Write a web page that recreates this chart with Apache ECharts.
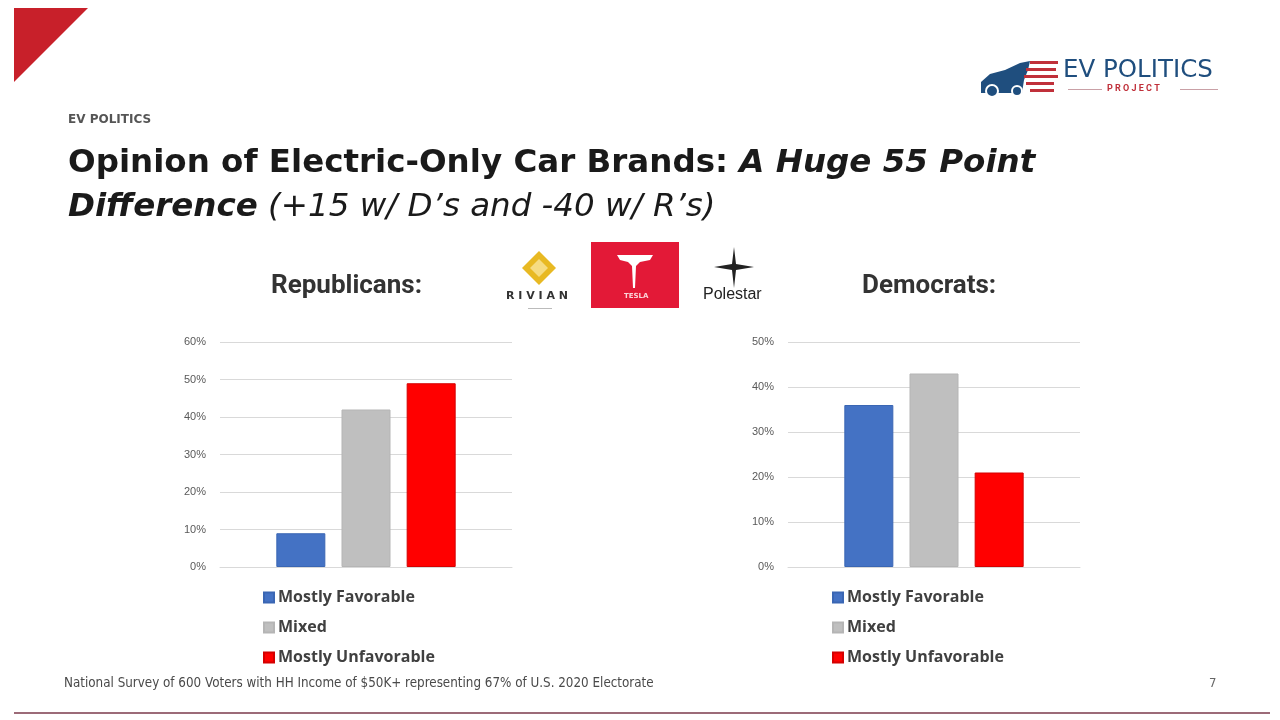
<!DOCTYPE html>
<html>
<head>
<meta charset="utf-8">
<script src="https://cdn.jsdelivr.net/npm/echarts@6/dist/echarts.min.js"></script>
<style>
html,body{margin:0;padding:0;background:#fff;}
#chart{width:1280px;height:720px;}
</style>
</head>
<body>
<div id="chart"></div>
<script>
// ---- data ----
const seriesNames = ['Mostly Favorable', 'Mixed', 'Mostly Unfavorable'];
const seriesColors = ['#4472c4', '#bfbfbf', '#ff0000'];
const repValues = [0.09, 0.42, 0.49];
const demValues = [0.36, 0.43, 0.21];
const repAxisMax = 0.6;
const demAxisMax = 0.5;
const axisStep = 0.1;
const panelTitles = ['Republicans:', 'Democrats:'];
const titleBold = 'Opinion of Electric-Only Car Brands: ';
const titleBoldItalic1 = 'A Huge 55 Point';
const titleBoldItalic2 = 'Difference';
const titleItalic = ' (+15 w/ D\u2019s and -40 w/ R\u2019s)';
const kicker = 'EV POLITICS';
const footnote = 'National Survey of 600 Voters with HH Income of $50K+ representing 67% of U.S. 2020 Electorate';
const pageNumber = '7';

const chart = echarts.init(document.getElementById('chart'), null, {renderer: 'canvas'});

const pctFmt = v => Math.round(v * 100) + '%';

function yAxis(gridIndex, max) {
  return {
    type: 'value', gridIndex: gridIndex, min: 0, max: max, interval: axisStep,
    axisLabel: {formatter: pctFmt, color: '#595959', fontSize: 11, fontFamily: 'Liberation Sans', margin: 14},
    axisLine: {show: false}, axisTick: {show: false},
    splitLine: {lineStyle: {color: '#d9d9d9', width: 1}}
  };
}
function xAxis(gridIndex) {
  return {
    type: 'category', gridIndex: gridIndex, data: [''],
    axisLine: {show: true, lineStyle: {color: '#d9d9d9'}},
    axisTick: {show: false}, axisLabel: {show: false}
  };
}
function bars(values, idx) {
  return seriesNames.map((name, i) => ({
    name: name, type: 'bar', xAxisIndex: idx, yAxisIndex: idx,
    data: [values[i]], barWidth: 49, barGap: '33%',
    itemStyle: {color: seriesColors[i], borderColor: i === 1 ? '#b5b5b5' : (i === 0 ? '#3a66b3' : '#d40000'), borderWidth: 1},
    emphasis: {disabled: true}
  }));
}
function legend(left) {
  return {
    orient: 'vertical', left: left, top: 588, itemGap: 11, padding: 0,
    itemWidth: 10, itemHeight: 10, icon: 'rect',
    data: seriesNames, selectedMode: false,
    textStyle: {color: '#404040', fontSize: 16, fontWeight: 'bold', fontFamily: 'Open Sans', padding: [0, 0, 0, -1], lineHeight: 19}
  };
}

const titleFont = 'DejaVu Sans';
const option = {
  backgroundColor: '#ffffff',
  animation: false,
  title: [{
    left: 68, top: 142, padding: 0,
    text: '{b|' + titleBold + '}{bi|' + titleBoldItalic1 + '}\n{bi|' + titleBoldItalic2 + '}{i|' + titleItalic + '}',
    textStyle: {
      rich: {
        b: {fontFamily: titleFont, fontWeight: 'bold', fontSize: 32.5, color: '#1a1a1a', lineHeight: 44},
        bi: {fontFamily: titleFont, fontWeight: 'bold', fontStyle: 'italic', fontSize: 32.5, color: '#1a1a1a', lineHeight: 44},
        i: {fontFamily: titleFont, fontWeight: 'normal', fontStyle: 'italic', fontSize: 32.5, color: '#1a1a1a', lineHeight: 44}
      }
    }
  }, {
    left: 68, top: 114, padding: 0, text: kicker,
    textStyle: {fontFamily: 'DejaVu Sans', fontWeight: 'bold', fontSize: 12, color: '#555555'}
  }, {
    left: 271, top: 273, padding: 0, text: panelTitles[0],
    textStyle: {fontFamily: 'Roboto', fontWeight: 'bold', fontSize: 26, color: '#333333'}
  }, {
    left: 862, top: 273, padding: 0, text: panelTitles[1],
    textStyle: {fontFamily: 'Roboto', fontWeight: 'bold', fontSize: 26, color: '#333333'}
  }, {
    left: 64, top: 677, padding: 0, text: footnote,
    textStyle: {fontFamily: 'DejaVu Sans Condensed, Liberation Sans', fontWeight: 'normal', fontSize: 13.3, color: '#4a4a4a'}
  }, {
    left: 1209, top: 677, padding: 0, text: pageNumber,
    textStyle: {fontFamily: 'DejaVu Sans Condensed, Liberation Sans', fontWeight: 'normal', fontSize: 13, color: '#666666'}
  }],
  grid: [
    {left: 220, top: 342, width: 292, height: 225},
    {left: 788, top: 342, width: 292, height: 225}
  ],
  xAxis: [xAxis(0), xAxis(1)],
  yAxis: [yAxis(0, repAxisMax), yAxis(1, demAxisMax)],
  legend: [legend(263), legend(832)],
  series: bars(repValues, 0).concat(bars(demValues, 1)),
  graphic: [
    // corner triangle
    {type: 'polygon', shape: {points: [[14, 8], [88, 8], [14, 82]]}, style: {fill: '#c8202a'}},
    // bottom rule
    {type: 'rect', shape: {x: 14, y: 712, width: 1256, height: 2}, style: {fill: '#9c6b78'}},
    // EV Politics Project logo: car
    {type: 'polygon', shape: {points: [[981, 93], [981, 82], [990, 74], [1005, 70], [1020, 63], [1030, 61], [1028, 70], [1024, 80], [1022, 93]]}, style: {fill: '#1f4e7e'}},
    {type: 'circle', shape: {cx: 992, cy: 91, r: 6}, style: {fill: '#1f4e7e', stroke: '#fff', lineWidth: 2}},
    {type: 'circle', shape: {cx: 1017, cy: 91, r: 5}, style: {fill: '#1f4e7e', stroke: '#fff', lineWidth: 2}},
    // stripes
    {type: 'rect', shape: {x: 1030, y: 61, width: 28, height: 3}, style: {fill: '#c0303a'}},
    {type: 'rect', shape: {x: 1026, y: 68, width: 30, height: 3}, style: {fill: '#c0303a'}},
    {type: 'rect', shape: {x: 1024, y: 75, width: 34, height: 3}, style: {fill: '#c0303a'}},
    {type: 'rect', shape: {x: 1026, y: 82, width: 28, height: 3}, style: {fill: '#c0303a'}},
    {type: 'rect', shape: {x: 1030, y: 89, width: 24, height: 3}, style: {fill: '#c0303a'}},
    {type: 'text', left: 1063, top: 58, style: {text: 'EV POLITICS', fontFamily: 'DejaVu Sans', fontSize: 24.5, fontWeight: 'normal', fill: '#1f4e7e'}},
    {type: 'text', left: 1107, top: 84, style: {text: 'P R O J E C T', fontFamily: 'Roboto', fontSize: 9, fontWeight: 'bold', fill: '#c0303a'}},
    {type: 'rect', shape: {x: 1068, y: 89, width: 34, height: 1}, style: {fill: '#c9a0a6'}},
    {type: 'rect', shape: {x: 1180, y: 89, width: 38, height: 1}, style: {fill: '#c9a0a6'}},
    // Rivian
    {type: 'polygon', shape: {points: [[539, 251], [556, 268], [539, 285], [522, 268]]}, style: {fill: '#e8b923'}},
    {type: 'polygon', shape: {points: [[539, 259], [548, 268], [539, 277], [530, 268]]}, style: {fill: '#f6dc82'}},
    {type: 'text', left: 506, top: 291, style: {text: 'R I V I A N', fontFamily: 'DejaVu Sans', fontSize: 11, fontWeight: 'bold', fill: '#333'}},
    {type: 'rect', shape: {x: 528, y: 308, width: 24, height: 1}, style: {fill: '#bbb'}},
    // Tesla
    {type: 'rect', shape: {x: 591, y: 242, width: 88, height: 66}, style: {fill: '#e31937'}},
    {type: 'polygon', shape: {points: [[617, 255], [653, 255], [650, 260], [640, 262], [636, 266], [635, 288], [633, 288], [632, 266], [628, 262], [620, 260]]}, style: {fill: '#ffffff'}},
    {type: 'text', left: 624, top: 293, style: {text: 'TESLA', fontFamily: 'DejaVu Sans', fontSize: 7, fontWeight: 'bold', fill: '#fbd3d8'}},
    // Polestar
    {type: 'polygon', shape: {points: [[734, 247], [736, 264], [754, 267], [736, 270], [734, 288], [732, 270], [714, 267], [732, 264]]}, style: {fill: '#222'}},
    {type: 'text', left: 703, top: 287, style: {text: 'Polestar', fontFamily: 'Liberation Sans', fontSize: 16, fill: '#222'}}
  ]
};
chart.setOption(option);
</script>
</body>
</html>
